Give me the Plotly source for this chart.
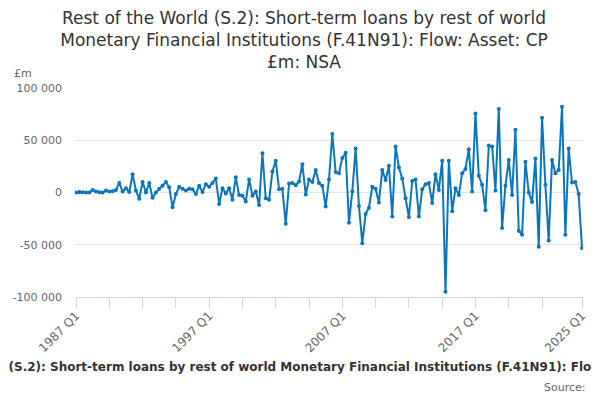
import plotly.graph_objects as go

# quarterly categories 1987 Q1 .. 2025 Q1
quarters = [f"{y} Q{q}" for y in range(1987, 2026) for q in range(1, 5)][:153]

values = [
    0, 500, 300, 0, 0, 2500, 1000, 300, 0, 2000,
    1000, 1200, 2500, 9000, 1000, 4000, 500, 17500, 2000, -6000,
    10000, 0, 9000, -5000, 0, 3500, 6500, 10000, 5000, -14000,
    -1500, 5500, 3500, 2000, 3500, 3000, -1500, 6500, 500, 8000,
    5500, 9000, 13500, -11000, 4000, -1000, 4000, -7000, 14500, -2500,
    -3000, -8500, 12500, -3000, 1000, -12000, 37500, -5500, -7000, 20000,
    30500, 3000, 3500, -30000, 8500, 9000, 7000, 10500, 27000, -2000,
    12500, 10000, 21500, 9000, 6500, -13500, 12500, 56000, 19500, 18500,
    33000, 38000, -29000, 1000, 42000, -13000, -48500, -20500, -14500, 5500,
    3500, -9500, 21500, 12000, 25500, -23000, 44000, 24000, 13500, -5500,
    -23500, 11000, 12500, -23000, 3000, 8000, 9000, -10000, 17500, 2500,
    30500, -95000, 30500, -18000, 4000, -2500, 18500, 22500, 41500, 1000,
    75500, 16000, 7500, -17000, 45000, 44000, 2000, 80000, -34000, 6500,
    31000, -2500, 60000, -36500, -40500, 29500, 0, -9000, 32500, -52000,
    71500, 7500, -46000, 31000, 18500, 21500, 82000, -40500, 42000, 9500,
    10000, -1500, -53000,
]

y_ticks = [-100000, -50000, 0, 50000, 100000]
y_labels = ["-100 000", "-50 000", "0", "50 000", "100 000"]
x_labels = ["1987 Q1", "1997 Q1", "2007 Q1", "2017 Q1", "2025 Q1"]

series_name = ("Rest of the World (S.2): Short-term loans by rest of world Monetary "
               "Financial Institutions (F.41N91): Flow: Asset: CP £m: NSA")

# a tick every 10 quarters, plus one on the last quarter
x_ticks = quarters[0:150:10] + [quarters[-1]]
x_ticktext = [q if q in x_labels else "" for q in x_ticks]

font = "DejaVu Sans"

fig = go.Figure()
fig.add_trace(go.Scatter(
    x=quarters,
    y=values,
    mode="lines+markers",
    line=dict(color="#0a77bd", width=2),
    marker=dict(color="#0a77bd", size=4),
    name=series_name,
))

# page body has an 8px margin, so the figure is 8px smaller each way
fig.update_layout(
    width=592,
    height=392,
    paper_bgcolor="white",
    plot_bgcolor="white",
    showlegend=False,
    font=dict(family=font, color="#666666", size=11),
    margin=dict(l=67, r=17, t=80, b=103),
    title=dict(
        text="Rest of the World (S.2): Short-term loans by rest of world<br>"
             "Monetary Financial Institutions (F.41N91): Flow: Asset: CP<br>"
             "£m: NSA",
        x=0.5, xanchor="center", y=0.96, yanchor="top",
        font=dict(family=font, size=17, color="#333333"),
    ),
    xaxis=dict(
        type="category",
        automargin=False,
        range=[-0.3, len(quarters) - 0.7],
        tickmode="array",
        tickvals=x_ticks,
        ticktext=x_ticktext,
        tickangle=-45,
        ticks="outside",
        ticklen=10,
        tickcolor="#ccd6eb",
        showline=True,
        linecolor="#ccd6eb",
        showgrid=False,
        zeroline=False,
        ticklabelstandoff=-4,
        tickfont=dict(size=12, color="#666666"),
    ),
    yaxis=dict(
        automargin=False,
        range=[-100000, 100000],
        tickmode="array",
        tickvals=y_ticks,
        ticktext=y_labels,
        showgrid=True,
        gridcolor="#e6e6e6",
        zeroline=False,
        ticks="",
        ticklabelstandoff=12,
        tickfont=dict(size=11, color="#666666"),
    ),
    annotations=[
        dict(text="£m", x=-0.125, y=1.03, xref="paper", yref="paper",
             xanchor="left", yanchor="bottom", showarrow=False),
        dict(text="<b>" + series_name + "</b>", x=0.467, y=-0.335, xref="paper", yref="paper",
             xanchor="center", yanchor="middle", showarrow=False,
             font=dict(size=12, color="#333333")),
        dict(text="Source:", x=1.01, y=-0.435, xref="paper", yref="paper",
             xanchor="right", yanchor="middle", showarrow=False,
             font=dict(size=11, color="#666666")),
    ],
)

fig.write_html("out.html")
